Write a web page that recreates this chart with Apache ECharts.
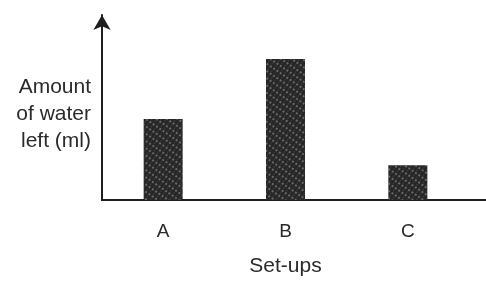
<!DOCTYPE html>
<html>
<head>
<meta charset="utf-8">
<script src="https://cdn.jsdelivr.net/npm/echarts@6/dist/echarts.min.js"></script>
<style>
  html, body { margin: 0; padding: 0; background: #fff; }
  #chart { width: 486px; height: 284px; }
</style>
</head>
<body>
<div id="chart"></div>
<script>
// data (no scale on the y axis, values are relative)
const setups = ['A', 'B', 'C'];
const waterLeft = [35, 61, 15];
const yMax = 80;

const inkColor = '#1e1e1e';
const fontFamily = 'Liberation Sans, Arial, sans-serif';

const chart = echarts.init(document.getElementById('chart'));

const option = {
  backgroundColor: '#fff',
  animation: false,
  grid: [
    { left: 102, right: 17, top: 15, bottom: 84 },
    // second grid only carries the x axis line out to the right edge
    { left: 102, right: 0, top: 15, bottom: 84 }
  ],
  xAxis: [
    {
      type: 'category',
      gridIndex: 0,
      data: setups,
      name: 'Set-ups',
      nameLocation: 'middle',
      nameGap: 56,
      nameTextStyle: { color: '#2a2a2a', fontSize: 21, fontFamily: fontFamily },
      axisLine: { show: true, lineStyle: { color: inkColor, width: 2 } },
      axisTick: { show: false },
      axisLabel: { color: '#2a2a2a', fontSize: 19, margin: 22, fontFamily: fontFamily },
      splitLine: { show: false }
    },
    {
      type: 'value',
      gridIndex: 1,
      axisLine: { show: true, onZero: false, lineStyle: { color: inkColor, width: 2 } },
      axisTick: { show: false },
      axisLabel: { show: false },
      splitLine: { show: false }
    }
  ],
  yAxis: [
    {
      type: 'value',
      gridIndex: 0,
      min: 0,
      max: yMax,
      // the empty {gap|} line pushes the block down a little, like the picture
      name: '{gap|}\nAmount\nof water\nleft (ml)',
      nameLocation: 'middle',
      nameRotate: 0,
      nameGap: 11,
      nameTextStyle: {
        color: '#2a2a2a',
        fontSize: 21,
        lineHeight: 27,
        align: 'right',
        fontFamily: fontFamily,
        rich: {
          gap: { height: 14, lineHeight: 14, fontSize: 10 }
        }
      },
      axisLine: {
        show: true,
        symbol: ['none', 'arrow'],
        symbolSize: [13, 15],
        lineStyle: { color: inkColor, width: 2 }
      },
      axisTick: { show: false },
      axisLabel: { show: false },
      splitLine: { show: false }
    },
    {
      type: 'value',
      gridIndex: 1,
      show: false
    }
  ],
  series: [
    {
      type: 'bar',
      xAxisIndex: 0,
      yAxisIndex: 0,
      data: waterLeft,
      barWidth: 39,
      itemStyle: {
        color: '#262626',
        decal: {
          symbol: 'circle',
          symbolSize: 0.9,
          color: 'rgba(255,255,255,0.45)',
          dashArrayX: [[2, 2], [1, 3]],
          dashArrayY: [2, 1],
          rotation: 0.6
        }
      }
    }
  ]
};

chart.setOption(option);
</script>
</body>
</html>
